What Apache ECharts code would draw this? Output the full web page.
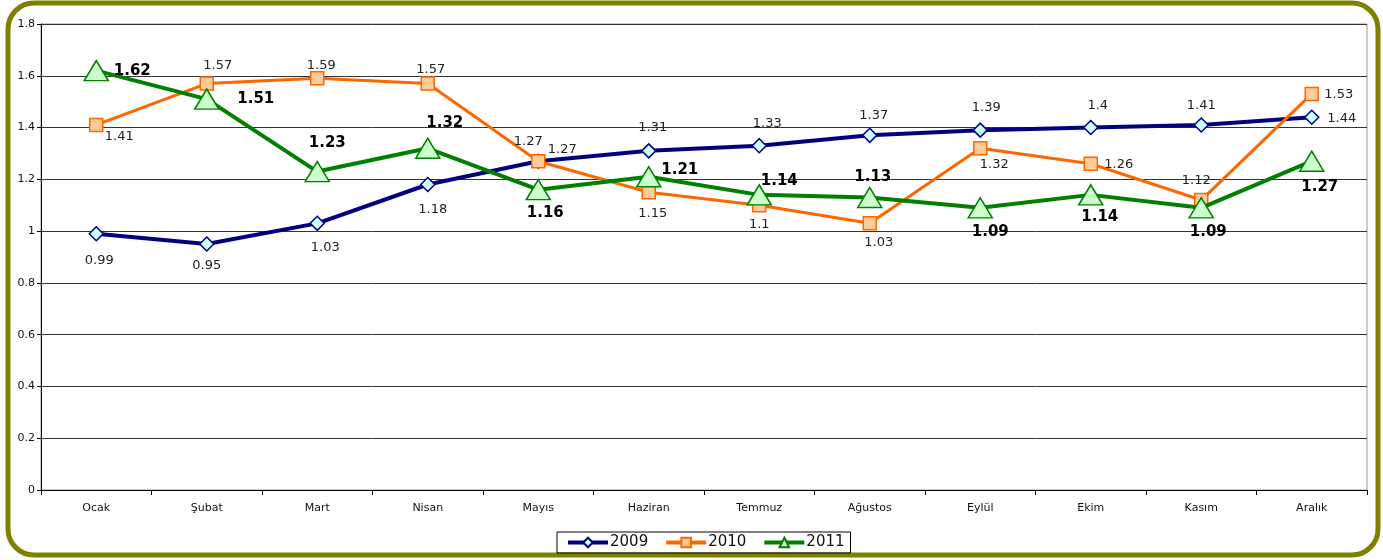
<!DOCTYPE html>
<html>
<head>
<meta charset="utf-8">
<script src="https://cdn.jsdelivr.net/npm/echarts@6/dist/echarts.min.js"></script>
<style>
  html, body { margin: 0; padding: 0; background: #fff; }
  #chart { width: 1383px; height: 560px; }
</style>
</head>
<body>
<div id="chart"></div>
<script>
// data
let months = ['Ocak', 'Şubat', 'Mart', 'Nisan', 'Mayıs', 'Haziran', 'Temmuz', 'Ağustos', 'Eylül', 'Ekim', 'Kasım', 'Aralık'];
let values2009 = [0.99, 0.95, 1.03, 1.18, 1.27, 1.31, 1.33, 1.37, 1.39, 1.4, 1.41, 1.44];
let values2010 = [1.41, 1.57, 1.59, 1.57, 1.27, 1.15, 1.1, 1.03, 1.32, 1.26, 1.12, 1.53];
let values2011 = [1.62, 1.51, 1.23, 1.32, 1.16, 1.21, 1.14, 1.13, 1.09, 1.14, 1.09, 1.27];

// label shift from each point, in px (style only)
let off2009 = [[3, 27], [0, 22], [8, 24], [5, 25], [24, -12], [4, -23], [8, -22], [4, -20], [6, -23], [7, -22], [0, -19], [30, 1]];
let off2010 = [[23, 12], [11, -18], [4, -13], [3, -14], [-10, -20], [4, 21], [0, 19], [9, 19], [14, 16], [28, 1], [-5, -19], [27, 1]];
let off2011 = [[36, 1], [49, 0], [10, -28], [17, -25], [7, 23], [31, -7], [20, -14], [3, -20], [10, 24], [9, 22], [7, 24], [8, 26]];

let chart = echarts.init(document.getElementById('chart'));

function buildData(vals, offs, bold) {
    return vals.map(function (v, i) {
        return {
            value: v,
            label: {
                show: true,
                position: 'inside',
                offset: offs[i],
                fontFamily: 'DejaVu Sans',
                fontSize: bold ? 15 : 13,
                fontWeight: bold ? 'bold' : 'normal',
                color: bold ? '#000' : '#222'
            }
        };
    });
}

let option = {
    animation: false,
    backgroundColor: '#fff',
    graphic: [{
        type: 'rect',
        z: -10,
        shape: { x: 8, y: 3, width: 1370, height: 552, r: 26 },
        style: { fill: '#fff', stroke: '#808000', lineWidth: 5 }
    }],
    grid: {
        left: 41,
        right: 16,
        top: 24,
        bottom: 70,
        show: true,
        borderColor: '#999',
        borderWidth: 1
    },
    legend: {
        bottom: 7,
        left: 557,
        itemWidth: 40,
        itemHeight: 12,
        itemGap: 16,
        padding: [3, 6, 3, 9],
        borderColor: '#000',
        borderWidth: 1,
        borderRadius: 0,
        lineStyle: { width: 4 },
        textStyle: { fontFamily: 'DejaVu Sans', fontSize: 15, color: '#111', padding: [0, 0, 0, -3] },
        data: ['2009', '2010', '2011']
    },
    xAxis: {
        type: 'category',
        data: months,
        boundaryGap: true,
        axisLine: { lineStyle: { color: '#000', width: 1 } },
        axisTick: { show: true, lineStyle: { color: '#000' }, length: 5 },
        axisLabel: { fontFamily: 'DejaVu Sans', fontSize: 11, color: '#111', margin: 13 },
        splitLine: { show: false }
    },
    yAxis: {
        type: 'value',
        min: 0,
        max: 1.8,
        interval: 0.2,
        axisLine: { show: true, lineStyle: { color: '#000', width: 1 } },
        axisTick: { show: true, lineStyle: { color: '#000' }, length: 4 },
        axisLabel: { fontFamily: 'DejaVu Sans', fontSize: 11, color: '#111', margin: 6 },
        splitLine: { lineStyle: { color: '#333', width: 1 } }
    },
    series: [{
        name: '2009',
        type: 'line',
        data: buildData(values2009, off2009, false),
        symbol: 'diamond',
        symbolSize: 14,
        lineStyle: { color: '#000080', width: 4 },
        itemStyle: { color: '#ccffff', borderColor: '#000080', borderWidth: 1.5 },
        z: 3
    }, {
        name: '2010',
        type: 'line',
        data: buildData(values2010, off2010, false),
        symbol: 'rect',
        symbolSize: 13,
        lineStyle: { color: '#ff6600', width: 3 },
        itemStyle: { color: '#ffcc99', borderColor: '#ff6600', borderWidth: 1.5 },
        z: 4
    }, {
        name: '2011',
        type: 'line',
        data: buildData(values2011, off2011, true),
        symbol: 'triangle',
        symbolSize: [24, 20],
        lineStyle: { color: '#008000', width: 4 },
        itemStyle: { color: '#ccffcc', borderColor: '#008000', borderWidth: 1.5 },
        z: 5
    }]
};

chart.setOption(option);
</script>
</body>
</html>
